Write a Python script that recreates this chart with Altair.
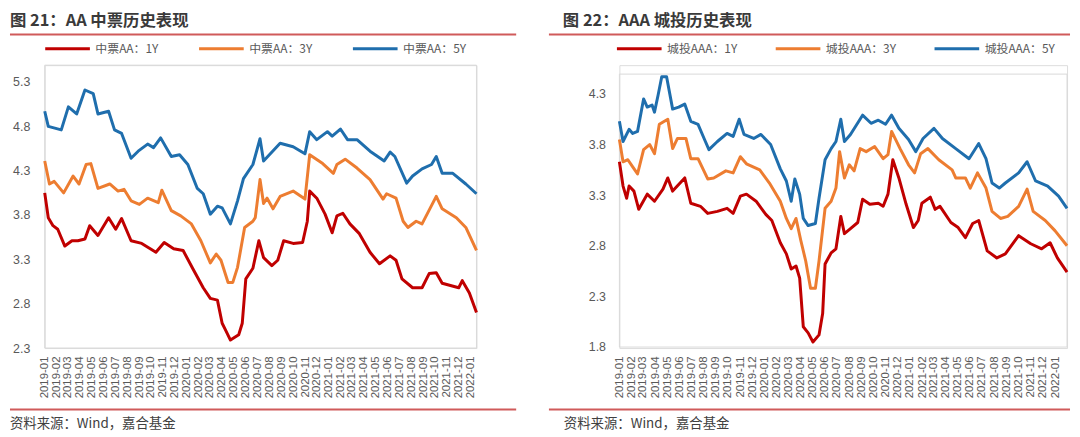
import altair as alt
import pandas as pd

# ---------------- data (months since 2019-01-01, yield %) ----------------
SERIES_L = ["中票AA：1Y", "中票AA：3Y", "中票AA：5Y"]
SERIES_R = ["城投AAA：1Y", "城投AAA：3Y", "城投AAA：5Y"]
COLORS = ["#C00000", "#ED7D31", "#1F6EAD"]

AA1_M = [0, 0.3, 0.7, 1.1, 1.7, 2.3, 2.8, 3.4, 3.8, 4.5, 5.4, 6.0, 6.5, 7.3, 8.2, 9.4, 10.1, 10.9, 11.7, 12.5,
         13.4, 14.0, 14.6, 15.0, 15.3, 15.7, 16.4, 16.7, 17.0, 17.6, 18.1, 18.5, 19.2, 19.7, 20.2, 21.0, 21.8,
         22.2, 22.4, 23.0, 23.7, 24.3, 24.7, 25.2, 25.8, 26.6, 27.5, 28.3, 29.2, 29.7, 30.2, 31.1, 31.9, 32.5,
         33.1, 33.6, 35.0, 35.3, 35.9, 36.5]
AA1_V = [4.05, 3.77, 3.68, 3.64, 3.45, 3.51, 3.51, 3.53, 3.68, 3.57, 3.77, 3.64, 3.76, 3.51, 3.48, 3.38, 3.49,
         3.42, 3.40, 3.20, 2.98, 2.86, 2.84, 2.58, 2.50, 2.39, 2.45, 2.58, 3.08, 3.20, 3.51, 3.32, 3.23, 3.29,
         3.51, 3.48, 3.49, 3.73, 4.07, 3.99, 3.81, 3.60, 3.79, 3.82, 3.70, 3.59, 3.38, 3.25, 3.34, 3.29, 3.08,
         2.98, 2.98, 3.14, 3.15, 3.03, 2.98, 3.06, 2.92, 2.70]

AA3_M = [0, 0.4, 0.8, 1.6, 2.4, 2.9, 3.5, 3.9, 4.5, 5.5, 6.2, 6.7, 7.3, 8.0, 8.7, 9.6, 9.9, 10.7, 11.5, 12.4,
         13.2, 14.0, 14.5, 14.9, 15.5, 15.9, 16.3, 16.9, 17.6, 17.8, 18.2, 18.5, 18.8, 19.3, 19.9, 21.0, 22.0,
         22.4, 23.5, 24.4, 24.7, 25.4, 26.4, 27.5, 28.6, 28.9, 29.7, 30.3, 30.7, 31.4, 31.9, 33.1, 33.6, 34.8,
         35.6, 36.5]
AA3_V = [4.41, 4.15, 4.18, 4.05, 4.24, 4.15, 4.37, 4.38, 4.10, 4.15, 4.07, 4.09, 3.96, 3.92, 3.99, 3.94, 4.08,
         3.85, 3.79, 3.70, 3.51, 3.26, 3.36, 3.29, 3.04, 3.04, 3.21, 3.66, 3.73, 3.77, 4.20, 3.93, 3.99, 3.87,
         4.01, 4.07, 3.98, 4.48, 4.38, 4.27, 4.37, 4.43, 4.33, 4.20, 3.98, 4.04, 3.99, 3.73, 3.66, 3.73, 3.70,
         4.01, 3.87, 3.77, 3.66, 3.40]

AA5_M = [0, 0.3, 1.4, 2.0, 2.7, 3.4, 4.1, 4.5, 5.4, 5.9, 6.5, 7.3, 7.9, 8.7, 9.2, 9.8, 10.7, 11.4, 12.1, 12.9,
         13.4, 14.0, 14.6, 15.0, 15.7, 16.3, 16.8, 17.6, 18.2, 18.5, 19.9, 21.0, 22.0, 22.4, 23.0, 23.9, 24.3,
         25.0, 25.6, 26.4, 27.5, 28.7, 29.2, 29.6, 30.6, 31.1, 31.9, 32.7, 33.1, 33.6, 34.5, 35.6, 36.5]
AA5_V = [4.97, 4.80, 4.76, 5.02, 4.94, 5.21, 5.17, 4.94, 4.97, 4.76, 4.72, 4.44, 4.52, 4.60, 4.56, 4.67, 4.46,
         4.48, 4.37, 4.10, 4.04, 3.81, 3.90, 3.88, 3.70, 3.96, 4.21, 4.37, 4.66, 4.41, 4.61, 4.57, 4.49, 4.74,
         4.65, 4.74, 4.69, 4.77, 4.65, 4.65, 4.52, 4.41, 4.51, 4.46, 4.16, 4.24, 4.32, 4.37, 4.46, 4.27, 4.27,
         4.15, 4.04]

AAA1_M = [0, 0.3, 0.6, 0.8, 1.2, 1.6, 2.3, 2.9, 3.6, 4.0, 4.4, 5.4, 5.9, 6.7, 7.3, 8.1, 8.9, 9.4, 10.0, 10.5,
          11.3, 12.1, 12.6, 13.3, 13.8, 14.2, 14.6, 14.9, 15.2, 15.6, 16.0, 16.5, 16.8, 17.0, 17.5, 17.9, 18.3,
          18.6, 19.1, 19.7, 20.1, 20.7, 21.4, 21.8, 22.2, 22.6, 23.1, 23.7, 24.3, 24.7, 25.0, 25.7, 26.1, 26.5,
          27.4, 28.0, 28.6, 29.2, 29.7, 30.4, 31.2, 31.9, 33.0, 34.0, 34.9, 35.6, 36.2, 37.0]
AAA1_V = [3.63, 3.39, 3.27, 3.39, 3.34, 3.16, 3.31, 3.24, 3.36, 3.47, 3.34, 3.47, 3.22, 3.19, 3.12, 3.14, 3.17,
          3.12, 3.29, 3.31, 3.24, 3.11, 3.05, 2.83, 2.72, 2.57, 2.60, 2.48, 2.00, 1.94, 1.85, 1.92, 2.13, 2.62,
          2.73, 2.77, 3.09, 2.92, 2.97, 3.03, 3.26, 3.21, 3.22, 3.19, 3.31, 3.65, 3.47, 3.21, 2.98, 3.05, 3.22,
          3.28, 3.16, 3.19, 3.03, 2.98, 2.88, 3.02, 3.05, 2.75, 2.68, 2.72, 2.90, 2.82, 2.77, 2.83, 2.68, 2.54]

AAA3_M = [0, 0.3, 0.7, 1.1, 1.5, 2.0, 2.5, 2.9, 3.3, 4.0, 4.4, 4.8, 5.5, 5.9, 6.5, 7.3, 7.8, 8.8, 9.4, 10.0,
          10.5, 11.6, 12.4, 13.3, 13.8, 14.2, 14.6, 15.0, 15.4, 15.8, 16.2, 16.5, 17.0, 17.5, 17.9, 18.2, 18.6,
          19.0, 19.4, 19.9, 20.4, 21.1, 21.8, 22.2, 22.5, 23.2, 23.9, 24.4, 24.9, 25.5, 26.4, 27.5, 27.8, 28.6,
          29.0, 29.6, 30.3, 30.8, 31.5, 32.1, 33.0, 33.7, 34.2, 35.2, 36.0, 37.0]
AAA3_V = [3.85, 3.63, 3.65, 3.58, 3.51, 3.75, 3.80, 3.71, 4.00, 4.05, 3.76, 3.86, 3.86, 3.66, 3.66, 3.46, 3.47,
          3.54, 3.52, 3.68, 3.61, 3.55, 3.42, 3.24, 3.07, 2.97, 3.07, 2.85, 2.65, 2.38, 2.38, 2.65, 3.17, 3.24,
          3.37, 3.73, 3.47, 3.60, 3.54, 3.76, 3.73, 3.78, 3.66, 3.70, 3.93, 3.76, 3.60, 3.52, 3.71, 3.76, 3.65,
          3.55, 3.47, 3.47, 3.37, 3.52, 3.37, 3.14, 3.07, 3.09, 3.19, 3.36, 3.14, 3.05, 2.95, 2.80]

AAA5_M = [0, 0.3, 0.8, 1.1, 1.5, 2.0, 2.3, 2.7, 2.9, 3.2, 3.5, 3.9, 4.4, 4.9, 5.4, 5.9, 6.5, 7.0, 7.4, 8.1,
          8.9, 9.4, 9.9, 10.3, 11.1, 11.7, 12.5, 13.3, 13.8, 14.2, 14.5, 14.9, 15.2, 15.6, 16.2, 16.5, 17.0,
          17.5, 17.9, 18.3, 18.6, 19.1, 20.1, 20.8, 21.4, 22.0, 22.5, 23.1, 23.9, 24.5, 25.1, 26.0, 26.7, 27.8,
          28.9, 29.7, 30.3, 30.8, 31.4, 31.9, 33.0, 33.7, 34.4, 35.4, 36.3, 37.0]
AAA5_V = [4.03, 3.83, 3.95, 3.91, 3.93, 4.25, 4.17, 4.19, 4.12, 4.29, 4.47, 4.47, 4.15, 4.17, 4.20, 4.03, 4.00,
          3.86, 3.75, 3.83, 3.91, 3.88, 4.05, 3.90, 3.86, 3.90, 3.80, 3.56, 3.44, 3.24, 3.46, 3.31, 3.07, 3.00,
          3.02, 3.27, 3.65, 3.76, 3.83, 4.05, 3.83, 3.90, 4.09, 4.01, 4.04, 4.00, 4.09, 3.96, 3.85, 3.73, 3.86,
          3.96, 3.86, 3.76, 3.66, 3.81, 3.66, 3.42, 3.37, 3.42, 3.52, 3.63, 3.44, 3.39, 3.29, 3.17]

TICK_MONTHS = [f"{y}-{m:02d}-01" for y in (2019, 2020, 2021) for m in range(1, 13)] + ["2022-01-01"]

Y_TICKS_L = [2.3, 2.8, 3.3, 3.8, 4.3, 4.8, 5.3]
Y_TICKS_R = [1.8, 2.3, 2.8, 3.3, 3.8, 4.3]

TITLE_L = "图 21：AA 中票历史表现"
TITLE_R = "图 22：AAA 城投历史表现"
SOURCE = "资料来源：Wind，嘉合基金"

# ---------------- helpers ----------------
START = pd.Timestamp("2019-01-01")
MONTH_DAYS = 30.4375


def ms(m):
    return int((START + pd.Timedelta(days=m * MONTH_DAYS)).value // 10**6)


TICK_MS = [int(pd.Timestamp(t).value // 10**6) for t in TICK_MONTHS]

CJK = "Noto Sans CJK SC"
NUM = "Liberation Sans"
GREY = "#595959"
RED_LINE = "#D05A5A"
H = 285  # common plot-area height (both panels share the same top)


def build_df(names, months, values):
    rows = []
    for i, (n, ms_list, vs) in enumerate(zip(names, months, values)):
        for m, v in zip(ms_list, vs):
            rows.append({"date": ms(m), "v": v, "s": n, "o": i})
    return pd.DataFrame(rows)


def panel(names, months, values, ydom, yticks, w, end_m, geo):
    df = build_df(names, months, values)
    one = pd.DataFrame({"t": [0]})
    frame = alt.Chart(one).mark_rect(filled=False, stroke="#D9D9D9", strokeWidth=1).encode(
        x=alt.value(0), x2=alt.value(w), y=alt.value(geo["ft"]), y2=alt.value(geo["fb"]))
    lines = alt.Chart(df).mark_line(strokeWidth=3, strokeJoin="round").encode(
        x=alt.X("date:T",
                scale=alt.Scale(type="utc", domain=[ms(0), ms(end_m)], nice=False),
                axis=alt.Axis(values=TICK_MS, labelExpr="utcFormat(datum.value, '%Y-%m')",
                              labelAngle=270, title=None, ticks=False, domain=False, grid=False,
                              labelFont=NUM, labelFontSize=11.5, labelColor=GREY,
                              labelPadding=geo["xpad"], labelOverlap=False, labelFlush=False,
                              labelBound=False)),
        y=alt.Y("v:Q",
                scale=alt.Scale(domain=ydom, nice=False, zero=False),
                axis=alt.Axis(values=yticks, format=".1f", title=None, ticks=False, domain=False,
                              grid=False, labelFont=NUM, labelFontSize=12.5, labelColor=GREY,
                              labelPadding=geo["ypad"])),
        color=alt.Color("s:N",
                        scale=alt.Scale(domain=names, range=COLORS),
                        legend=alt.Legend(orient="none", legendX=geo["lx"], legendY=-40.5,
                                          direction="horizontal", columns=3, title=None,
                                          symbolType="stroke", symbolSize=2025, symbolStrokeWidth=3,
                                          labelFont=CJK, labelFontSize=12, labelColor=GREY,
                                          labelOffset=4, columnPadding=geo["cp"], padding=0)),
        detail="o:N",
    )
    title = alt.Chart(pd.DataFrame({"t": [geo["title"]]})).mark_text(
        align="left", baseline="middle", font=CJK, fontSize=16.5, fontWeight="bold", color="#3A3A3A"
    ).encode(text="t:N", x=alt.value(geo["tx"]), y=alt.value(-44.75))
    rule_top = alt.Chart(one).mark_rule(color=RED_LINE, strokeWidth=2).encode(
        x=alt.value(geo["rx1"]), x2=alt.value(geo["rx2"]), y=alt.value(-31))
    rule_bot = alt.Chart(one).mark_rule(color=RED_LINE, strokeWidth=2).encode(
        x=alt.value(geo["rx1"]), x2=alt.value(geo["rx2"]), y=alt.value(347))
    source = alt.Chart(pd.DataFrame({"t": [SOURCE]})).mark_text(
        align="left", baseline="middle", font=CJK, fontSize=13.5, color="#404040"
    ).encode(text="t:N", x=alt.value(geo["sx"]), y=alt.value(362))
    return alt.layer(frame, lines, title, rule_top, rule_bot, source).properties(width=w, height=H)


left = panel(SERIES_L, [AA1_M, AA3_M, AA5_M], [AA1_V, AA3_V, AA5_V], [2.3, 5.49], Y_TICKS_L,
             435, 36.5,
             dict(ypad=15, xpad=8, lx=-1, cp=34, title=TITLE_L, tx=-35, ft=0, fb=H,
                  rx1=-35, rx2=475, sx=-35))
right = panel(SERIES_R, [AAA1_M, AAA3_M, AAA5_M], [AAA1_V, AAA3_V, AAA5_V], [1.79, 4.584], Y_TICKS_R,
              451, 37.0,
              dict(ypad=14, xpad=8, lx=-4, cp=32, title=TITLE_R, tx=-57, ft=9, fb=H - 1,
                   rx1=-71, rx2=454, sx=-56))

chart = alt.hconcat(left, right, spacing=29).resolve_scale(
    x="independent", y="independent", color="independent"
).resolve_legend(color="independent").properties(
    padding={"top": 2, "left": 0, "right": 0, "bottom": 0}
).configure_view(strokeWidth=0).configure(background="white")

chart.save("out.html", embed_options={"renderer": "svg", "actions": False})
